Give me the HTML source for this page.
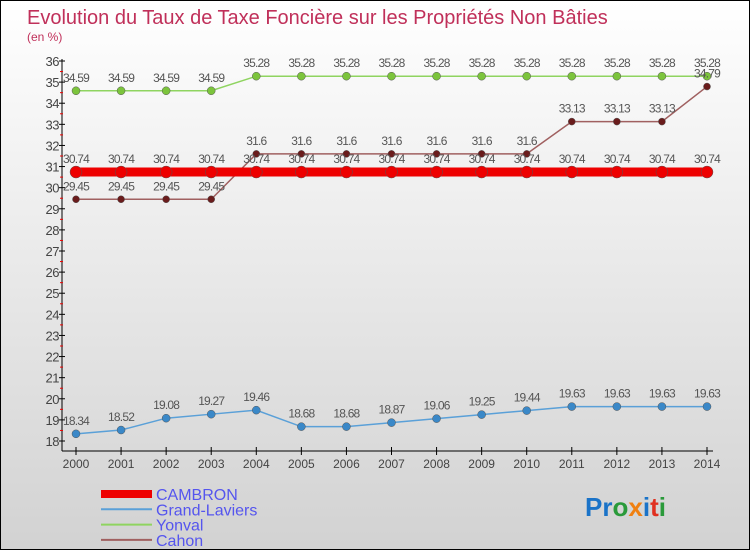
<!DOCTYPE html>
<html><head><meta charset="utf-8"><style>
body{margin:0}
#c{width:750px;height:550px;position:relative;background:linear-gradient(#ffffff,#d2d2d2);box-sizing:border-box;border:1px solid #000;font-family:"Liberation Sans",sans-serif;overflow:hidden}
</style></head><body>
<div id="c">
<svg id="s" width="750" height="550" style="position:absolute;left:0;top:0">
<text x="26" y="23" font-size="20" fill="#c0305a">Evolution du Taux de Taxe Foncière sur les Propriétés Non Bâties</text>
<text x="26" y="40" font-size="12" fill="#c0305a">(en %)</text>
<g id="axes"></g><g id="series"></g><g id="legend"></g>
<text x="584" y="515" font-size="26" font-weight="bold"><tspan fill="#1a73c8">Pr</tspan><tspan fill="#2a9a3a">o</tspan><tspan fill="#f08010">x</tspan><tspan fill="#1a73c8">i</tspan><tspan fill="#e03020">t</tspan><tspan fill="#2a9a3a">i</tspan></text>
</svg>
</div>
<script>
const years=[2000,2001,2002,2003,2004,2005,2006,2007,2008,2009,2010,2011,2012,2013,2014];
const yTicks=[18,19,20,21,22,23,24,25,26,27,28,29,30,31,32,33,34,35,36];
const cambron=[30.74,30.74,30.74,30.74,30.74,30.74,30.74,30.74,30.74,30.74,30.74,30.74,30.74,30.74,30.74];
const grandLaviers=[18.34,18.52,19.08,19.27,19.46,18.68,18.68,18.87,19.06,19.25,19.44,19.63,19.63,19.63,19.63];
const yonval=[34.59,34.59,34.59,34.59,35.28,35.28,35.28,35.28,35.28,35.28,35.28,35.28,35.28,35.28,35.28];
const cahon=[29.45,29.45,29.45,29.45,31.6,31.6,31.6,31.6,31.6,31.6,31.6,33.13,33.13,33.13,34.79];
const names=["CAMBRON","Grand-Laviers","Yonval","Cahon"];
const NS="http://www.w3.org/2000/svg";
const X=i=>75+i*(706-75)/(years.length-1);
const Y=v=>60+(36-v)*(440-60)/18;
function mk(t,a,p){const e=document.createElementNS(NS,t);for(const k in a)e.setAttribute(k,a[k]);p.appendChild(e);return e;}
const ax=document.getElementById('axes');
let l=mk('line',{x1:61,y1:58,x2:61,y2:450,stroke:'#000'},ax);


l=mk('line',{x1:61,y1:450,x2:712,y2:450,stroke:'#000'},ax);


yTicks.forEach(v=>{
 mk('line',{x1:58,y1:Y(v),x2:64,y2:Y(v),stroke:'#000'},ax);
 if(v<36)mk('line',{x1:59,y1:Y(v+0.5),x2:62,y2:Y(v+0.5),stroke:'#e00'},ax);
 const t=mk('text',{x:58,y:Y(v)+5,'font-size':13,fill:'#444','text-anchor':'end','letter-spacing':'-0.5'},ax);t.textContent=v;
 
 
});
years.forEach((y,i)=>{
 mk('line',{x1:X(i),y1:446,x2:X(i),y2:454,stroke:'#000'},ax);
 const t=mk('text',{x:X(i),y:467,'font-size':12,fill:'#444','text-anchor':'middle'},ax);t.textContent=y;
 
 
});
const sg=document.getElementById('series');
function series(d,col,dot,w,r,name){
 const g=mk('g',{},sg);
 
 
 mk('polyline',{points:d.map((v,i)=>X(i)+','+Y(v)).join(' '),fill:'none',stroke:col,'stroke-width':w},g);
 d.forEach((v,i)=>{
  const c=mk('circle',{cx:X(i),cy:Y(v),r:r,fill:dot,stroke:'#555','stroke-width':0.5},g);
  
  
  const t=mk('text',{x:X(i),y:Y(v)-9,'font-size':12,fill:'#555','text-anchor':'middle','letter-spacing':'-0.8'},g);t.textContent=v;
  
  
 });
}
series(yonval,'#8fd460','#7cc43c',1.5,4,'yonval');
series(cahon,'#a06060','#6a1c1c',1.5,3.5,'cahon');
series(cambron,'#ee0000','#ee0000',9,6,'cambron');
series(grandLaviers,'#5aa0d8','#3a88c8',1.5,4,'grand-laviers');
const lg=document.getElementById('legend');
const lc=['#ee0000','#5aa0d8','#8fd460','#a06060'],lw=[8,2,2,2];
names.forEach((n,i)=>{
 const y=493+i*15.3;
 const ln=mk('line',{x1:100,y1:y,x2:151,y2:y,stroke:lc[i],'stroke-width':lw[i]},lg);
 
 
 const t=mk('text',{x:155,y:y+6,'font-size':16,fill:'#5555ee'},lg);t.textContent=n;
 
 
});
</script>
</body></html>
